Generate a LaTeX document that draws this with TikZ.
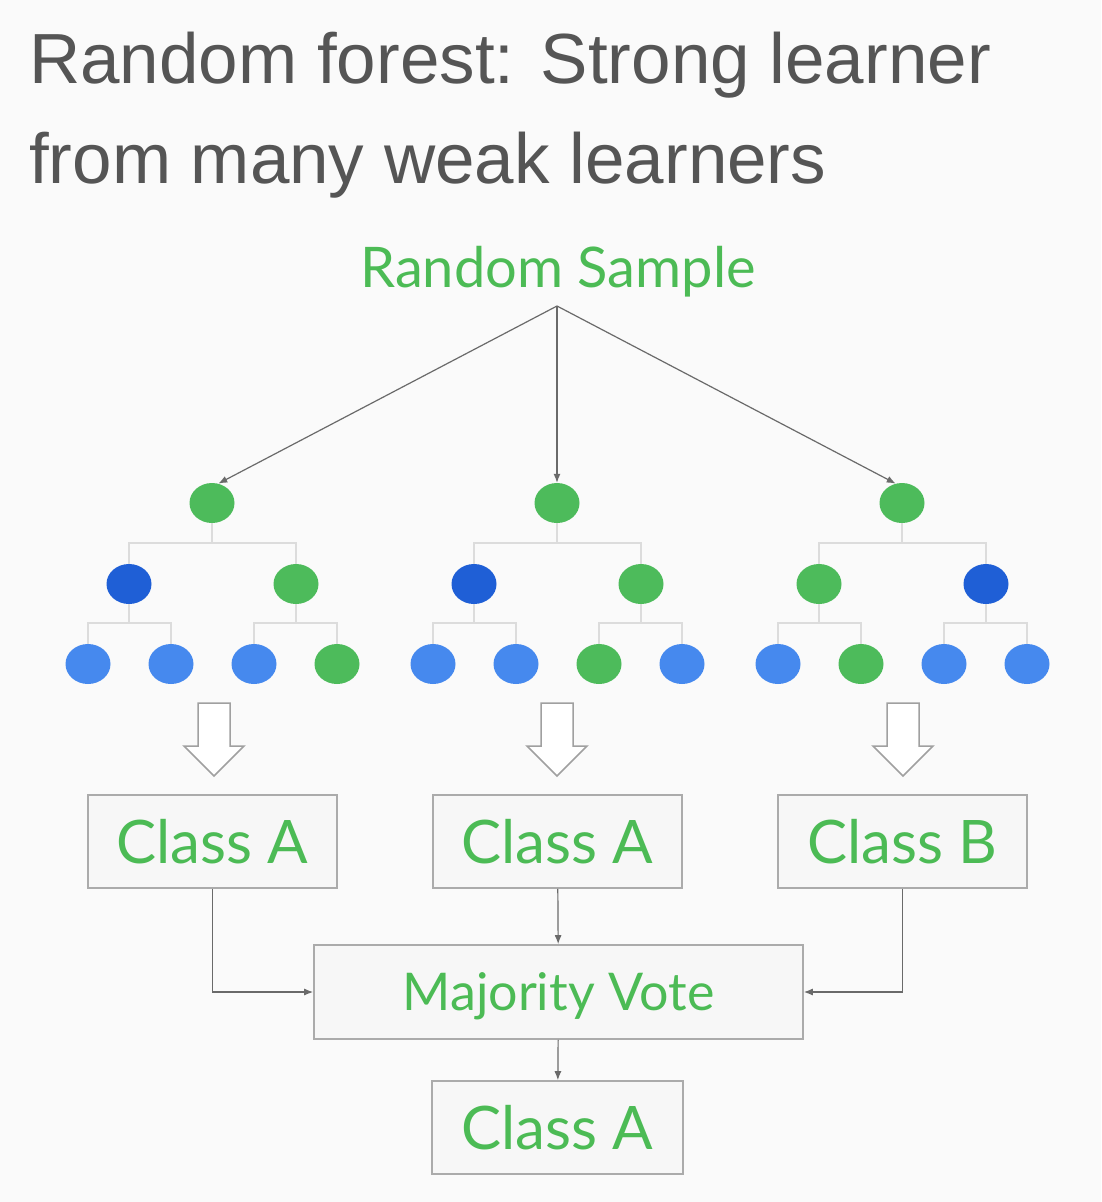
\documentclass[tikz,border=0pt]{standalone}
\usepackage{fontspec}
\setmainfont{Liberation Sans}
\newfontfamily\hand{Lato}
\usetikzlibrary{shapes.geometric,arrows.meta}
\definecolor{bg}{HTML}{FAFAFA}
\definecolor{titlegray}{HTML}{555555}
\definecolor{hgreen}{HTML}{4CBB55}
\definecolor{ngreen}{HTML}{4DBB5B}
\definecolor{dblue}{HTML}{1F5FD6}
\definecolor{lblue}{HTML}{4689EE}
\definecolor{boxgray}{HTML}{ABABAB}
\definecolor{boxfill}{HTML}{F7F7F7}
\definecolor{linkgray}{HTML}{DCDCDC}
\definecolor{arrgray}{HTML}{6A6A6A}
\definecolor{hollowgray}{HTML}{A0A0A0}
\begin{document}
\begin{tikzpicture}[x=1pt,y=-1pt,
  dot/.style={ellipse,minimum width=45pt,minimum height=40pt,inner sep=0pt},
  dotg/.style={dot,fill=ngreen},
  dotd/.style={dot,fill=dblue},
  dotl/.style={dot,fill=lblue},
  link/.style={draw=linkgray,line width=2pt},
  classbox/.style={draw=boxgray,line width=1.6pt,fill=boxfill,inner sep=0pt,
    minimum width=249pt,minimum height=93pt,
    font=\hand\fontsize{60}{66}\selectfont,text=hgreen},
  flow/.style={draw=arrgray,line width=1.2pt,-{Latex[length=9pt,width=7pt]}},
  hollow/.style={draw=hollowgray,fill=white,line width=1.5pt,line join=miter},
]
\fill[bg] (0,0) rectangle (1101,1202);
\useasboundingbox (0,0) rectangle (1101,1202);

% title
\node[anchor=base west,inner sep=0pt,text=titlegray,font=\fontsize{71}{80}\selectfont] (t1) at (29,83) {Random forest: Strong learner};
\node[anchor=base west,inner sep=0pt,text=titlegray,font=\fontsize{71}{80}\selectfont] (t2) at (29,183) {from many weak learners};

% random sample
\node[inner sep=0pt,text=hgreen,font=\hand\fontsize{56}{60}\selectfont] (rs) at (558,272) {Random Sample};
\coordinate (src) at (557,306);

% trees
\foreach \t/\cx/\ang/\a/\b/\c/\d/\e/\f in {1/212/72/d/g/l/l/l/g, 2/557/90/d/g/l/l/g/l, 3/902/108/g/d/l/g/l/l}{
  \node[dotg] (r\t) at (\cx,503) {};
  \node[dot\a] (m\t-1) at (\cx-83,584) {};
  \node[dot\b] (m\t-2) at (\cx+84,584) {};
  \node[dot\c] (l\t-1) at (\cx-124,664) {};
  \node[dot\d] (l\t-2) at (\cx-41,664) {};
  \node[dot\e] (l\t-3) at (\cx+42,664) {};
  \node[dot\f] (l\t-4) at (\cx+125,664) {};
  \coordinate (j\t) at (\cx,543);
  \coordinate (ja\t) at (\cx-83,623);
  \coordinate (jb\t) at (\cx+84,623);
  \draw[link] (r\t) -- (j\t);
  \draw[link] (m\t-1.north) |- (j\t) -| (m\t-2.north);
  \draw[link] (m\t-1) -- (ja\t);
  \draw[link] (l\t-1.north) |- (ja\t) -| (l\t-2.north);
  \draw[link] (m\t-2) -- (jb\t);
  \draw[link] (l\t-3.north) |- (jb\t) -| (l\t-4.north);
  \draw[flow] (src) -- (r\t.\ang);
}

% hollow arrows
\foreach \x in {214,557,903}{
  \draw[hollow] (\x-16,703) -- (\x+16,703) -- (\x+16,746) -- (\x+30,746)
    -- (\x,776) -- (\x-30,746) -- (\x-16,746) -- cycle;
}

% boxes
\node[classbox] (c1) at (212.5,841.5) {Class A};
\node[classbox] (c2) at (557.5,841.5) {Class A};
\node[classbox] (c3) at (902.5,841.5) {Class B};
\node[classbox,minimum width=489pt,minimum height=94pt,text depth=0pt,font=\hand\fontsize{52}{60}\selectfont] (mv) at (558.5,992) {Majority Vote};
\node[classbox,minimum width=251pt] (fin) at (557.5,1127.5) {Class A};

\draw[flow] (c1.south) |- (mv.west);
\draw[flow] (c2) -- (mv);
\draw[flow] (c3.south) |- (mv.east);
\draw[flow] (mv) -- (fin);
\end{tikzpicture}
\end{document}
